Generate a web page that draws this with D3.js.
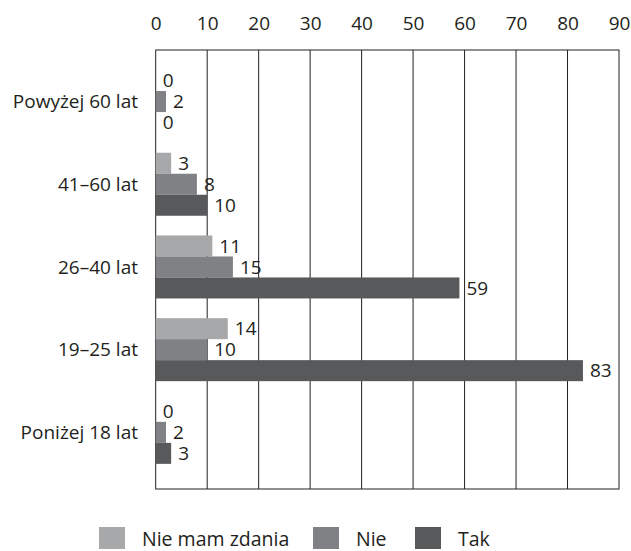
<!DOCTYPE html>
<html>
<head>
<meta charset="utf-8">
<script src="https://cdn.jsdelivr.net/npm/d3@7"></script>
<style>
  body { margin: 0; background: #fff; }
  svg text { font-family: "Open Sans", "Noto Sans", sans-serif; fill: #231f20; }
</style>
</head>
<body>
<svg id="chart" width="631" height="551"></svg>
<script>
// Age groups, top to bottom
const categories = ["Powyżej 60 lat", "41–60 lat", "26–40 lat", "19–25 lat", "Poniżej 18 lat"];
const seriesNames = ["Nie mam zdania", "Nie", "Tak"];
const nieMamZdania = [0, 3, 11, 14, 0];
const nie = [2, 8, 15, 10, 2];
const tak = [0, 10, 59, 83, 3];
const xTicks = [0, 10, 20, 30, 40, 50, 60, 70, 80, 90];
const colors = ["#a7a8aa", "#808184", "#58595b"];

const seriesValues = [nieMamZdania, nie, tak];

const svg = d3.select("#chart");
const plot = { left: 155.7, right: 619, top: 50, bottom: 489 };

const x = d3.scaleLinear().domain([0, 90]).range([plot.left, plot.right]);
const y = d3.scaleBand().domain(categories).range([60.2, 473.7])
  .paddingInner(0.238).paddingOuter(0.119);
const ySub = d3.scaleBand().domain(seriesNames).range([0, y.bandwidth()]);

const fontSize = 19;
const fontFamily = "'Open Sans', 'Noto Sans', sans-serif";

// Frame and vertical gridlines
svg.append("rect")
  .attr("x", plot.left).attr("y", plot.top)
  .attr("width", plot.right - plot.left).attr("height", plot.bottom - plot.top)
  .attr("fill", "none").attr("stroke", "#231f20").attr("stroke-width", 1);

svg.append("g").selectAll("line").data(xTicks.slice(1, -1)).join("line")
  .attr("x1", d => x(d)).attr("x2", d => x(d))
  .attr("y1", plot.top).attr("y2", plot.bottom)
  .attr("stroke", "#231f20").attr("stroke-width", 1);

// Top axis labels
const xAxis = d3.axisTop(x).tickValues(xTicks).tickSize(0).tickPadding(0);
const gx = svg.append("g").attr("transform", "translate(0,30)").call(xAxis);
gx.select(".domain").remove();
gx.selectAll("text").attr("font-size", fontSize).attr("dy", 0)
  .style("font-family", fontFamily).attr("fill", "#231f20");

// Category labels
const yAxis = d3.axisLeft(y).tickSize(0).tickPadding(0);
const gy = svg.append("g").attr("transform", "translate(138,0)").call(yAxis);
gy.select(".domain").remove();
gy.selectAll("text").attr("font-size", fontSize).attr("dy", "0.36em")
  .style("font-family", fontFamily).attr("fill", "#231f20");

// Bars with value labels
const rows = [];
categories.forEach((c, i) => {
  seriesNames.forEach((s, j) => {
    rows.push({ cat: c, series: s, value: seriesValues[j][i], color: colors[j] });
  });
});

const groups = svg.append("g");
groups.selectAll("rect").data(rows).join("rect")
  .attr("x", x(0))
  .attr("y", d => y(d.cat) + ySub(d.series))
  .attr("width", d => x(d.value) - x(0))
  .attr("height", ySub.bandwidth())
  .attr("fill", d => d.color);

groups.selectAll("text").data(rows).join("text")
  .attr("x", d => x(d.value) + 7)
  .attr("y", d => y(d.cat) + ySub(d.series) + ySub.bandwidth() / 2)
  .attr("dy", "0.36em")
  .attr("font-size", fontSize)
  .text(d => d.value);

// Legend
const legendItems = [
  { name: seriesNames[0], color: colors[0], x: 99 },
  { name: seriesNames[1], color: colors[1], x: 313 },
  { name: seriesNames[2], color: colors[2], x: 415 }
];
const lg = svg.append("g").selectAll("g").data(legendItems).join("g")
  .attr("transform", d => `translate(${d.x},527)`);
lg.append("rect").attr("width", 26).attr("height", 22).attr("fill", d => d.color);
lg.append("text").attr("x", 43).attr("y", 19).attr("font-size", 19.5).text(d => d.name);
</script>
</body>
</html>
